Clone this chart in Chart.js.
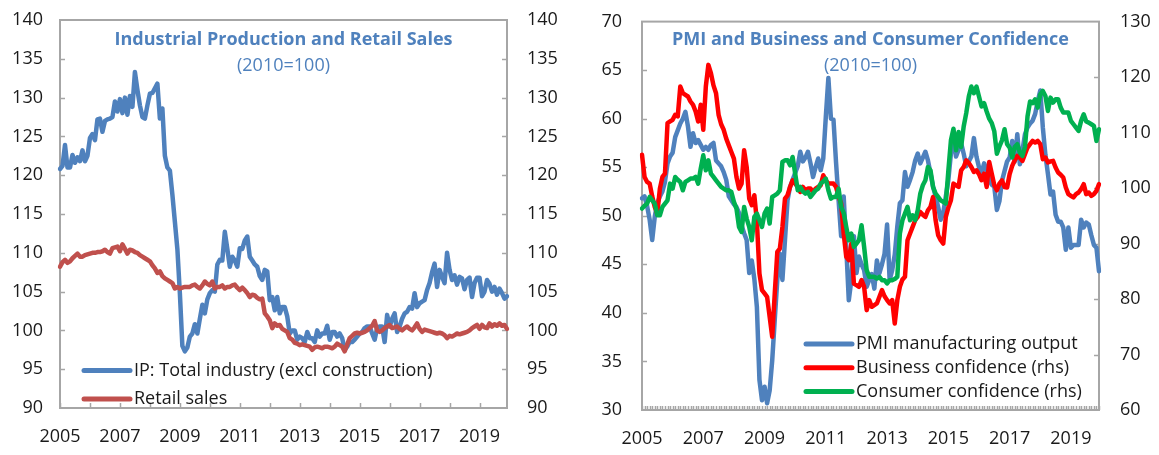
<!DOCTYPE html>
<html>
<head>
<meta charset="utf-8">
<script src="https://cdn.jsdelivr.net/npm/chart.js@4.4.1/dist/chart.umd.min.js"></script>
<style>
  html, body { margin: 0; padding: 0; background: #fff; }
  body { width: 1159px; height: 455px; position: relative; overflow: hidden; }
  .box { position: absolute; top: 0; height: 455px; }
  #box1 { left: 0; width: 570px; }
  #box2 { left: 580px; width: 579px; }
</style>
</head>
<body>
<div class="box" id="box1"><canvas id="ipChart"></canvas></div>
<div class="box" id="box2"><canvas id="pmiChart"></canvas></div>
<script>
// Data: monthly, Jan 2005 - Dec 2019
const startYear = 2005;
const yearTicks = ['2005', '2007', '2009', '2011', '2013', '2015', '2017', '2019'];

const ipTotal = [
  120.8, 121.2, 123.9, 121.0, 121.0, 122.6, 121.6, 122.3, 121.8, 123.2, 121.8, 122.5,
  124.8, 125.3, 124.5, 127.2, 127.3, 125.6, 127.0, 127.2, 127.3, 127.5, 129.5, 128.2,
  129.8, 128.0, 130.0, 127.8, 130.2, 128.8, 133.3, 131.0, 129.0, 127.5, 127.3, 129.0,
  130.5, 130.6, 131.2, 131.8, 127.3, 128.6, 122.5, 121.0, 120.6, 117.5, 114.0, 110.5,
  104.8, 98.0, 97.3, 97.8, 99.2, 99.6, 100.8, 99.6, 101.5, 103.3, 102.2, 104.0,
  104.8, 105.2, 105.0, 108.5, 109.1, 109.0, 112.7, 110.5, 108.2, 109.5, 109.0, 108.2,
  110.6, 110.5, 111.6, 112.1, 109.5, 109.0, 108.5, 108.2, 107.0, 106.5, 107.8, 107.6,
  103.9, 104.3, 102.6, 104.3, 102.2, 103.0, 103.0, 101.8, 99.6, 100.0, 100.0, 98.8,
  99.2, 99.0, 98.5, 99.8, 99.0, 99.0, 98.5, 100.0, 99.2, 99.6, 99.6, 100.6,
  98.8, 99.8, 99.8, 99.2, 99.6, 99.0, 97.5, 97.9, 98.5, 98.5, 98.8, 99.2,
  99.6, 99.8, 100.3, 100.5, 100.5, 99.6, 98.8, 100.3, 100.5, 100.5, 98.5, 102.0,
  100.5, 101.5, 102.2, 99.8, 100.5, 101.5, 102.2, 102.4, 103.0, 102.8, 104.8, 103.0,
  103.5, 103.7, 103.9, 105.2, 106.1, 107.5, 108.6, 105.6, 107.8, 106.9, 106.1, 110.0,
  107.8, 106.5, 107.1, 105.9, 106.9, 106.7, 105.3, 106.5, 106.8, 104.3, 106.1, 106.8,
  106.8, 104.4, 105.0, 106.5, 106.0, 105.0, 105.6, 104.6, 105.4, 104.8, 104.1, 104.4
];

const retailSales = [
  108.2, 108.8, 109.1, 108.7, 108.9, 109.3, 109.6, 109.9, 109.5, 109.5, 109.7, 109.8,
  109.9, 110.0, 110.0, 110.1, 110.1, 110.2, 110.4, 110.1, 109.9, 110.6, 110.7, 110.8,
  110.2, 111.1, 110.5, 109.9, 110.4, 110.3, 110.1, 110.0, 109.7, 109.5, 109.3, 109.1,
  108.9, 108.4, 108.0, 107.4, 107.6, 107.0, 106.7, 106.5, 106.3, 106.1, 105.4, 105.6,
  105.4, 105.5, 105.6, 105.6, 105.6, 105.8, 105.9, 105.6, 105.4, 105.8, 106.3, 106.0,
  105.8, 106.3, 105.4, 105.6, 105.6, 105.8, 105.4, 105.6, 105.6, 105.8, 105.9, 105.5,
  105.2, 105.5, 105.2, 104.8, 104.3, 104.6, 104.5, 104.2, 104.0, 104.1, 102.2, 101.8,
  101.3, 100.3, 100.9, 100.6, 100.7, 100.2, 100.0, 99.8, 99.0, 98.8, 98.4, 98.3,
  98.1, 98.2, 98.1, 98.0, 97.9, 97.5, 97.8, 97.9, 97.8, 97.7, 97.9, 97.9,
  97.8, 97.7, 97.9, 98.3, 98.1, 97.9, 97.3, 98.2, 99.0, 99.3, 99.6, 99.7,
  99.6, 99.7, 99.8, 100.0, 100.3, 100.6, 101.2, 100.0, 99.8, 100.0, 100.3, 100.5,
  100.7, 100.3, 100.4, 100.5, 100.2, 100.0, 100.3, 100.5, 100.2, 100.0, 100.4, 100.9,
  100.2, 99.8, 100.1, 100.0, 99.9, 99.8, 99.7, 99.6, 99.7, 99.6, 99.4, 99.0,
  99.3, 99.2, 99.4, 99.6, 99.5, 99.6, 99.7, 99.8, 100.0, 100.3, 100.5, 100.7,
  100.2, 100.7, 100.4, 100.3, 100.9, 100.5, 100.8, 100.6, 100.9, 100.6, 100.7, 100.2
];

const pmiOutput = [
  51.8, 52.0, 51.0, 49.6, 47.5, 49.9, 51.3, 52.0, 52.5, 53.5, 55.4, 56.1,
  56.5, 58.1, 58.8, 59.5, 60.0, 60.7, 59.2, 57.1, 58.5, 57.5, 57.8, 57.3,
  56.8, 57.1, 56.8, 57.3, 57.5, 55.7, 55.4, 55.1, 54.5, 53.7, 52.0, 51.6,
  51.2, 50.9, 50.3, 49.0, 48.2, 47.5, 44.1, 45.4, 43.5, 40.6, 33.1, 31.0,
  32.4, 30.7, 32.0, 35.1, 39.3, 43.4, 46.1, 43.4, 47.5, 51.6, 53.0, 53.7,
  54.4, 55.1, 56.6, 55.6, 56.0, 56.6, 55.4, 54.0, 55.0, 55.9, 54.7, 55.9,
  60.2, 64.2, 60.0, 59.9, 55.5, 51.6, 47.9, 52.0, 46.8, 41.3, 43.4, 47.9,
  44.1, 45.8, 45.0, 44.4, 42.7, 43.4, 44.0, 42.5, 45.4, 44.1, 45.0, 46.1,
  49.1, 43.4, 44.4, 46.0, 48.9, 51.3, 51.6, 54.5, 53.0, 53.7, 54.5, 55.7,
  56.4, 55.4, 56.0, 56.6, 55.7, 54.4, 53.0, 52.0, 50.9, 49.6, 50.3, 52.0,
  53.7, 56.4, 58.0, 56.1, 56.8, 57.5, 56.4, 55.1, 55.6, 56.1, 58.0, 56.1,
  55.0, 54.4, 55.4, 54.7, 53.7, 53.2, 53.0, 50.6, 51.5, 53.6, 54.6, 55.6,
  56.0, 57.7, 55.6, 58.4, 55.3, 56.7, 58.4, 59.1, 59.5, 59.8, 60.5, 61.8,
  62.9, 59.1, 56.3, 54.3, 52.2, 52.5, 50.1, 49.4, 49.4, 48.8, 46.5, 48.8,
  46.7, 47.0, 47.0, 47.0, 49.6, 48.8, 49.3, 49.1, 48.0, 47.0, 46.7, 44.3
];

const businessConf = [
  106.0, 102.0, 101.1, 100.8, 98.5, 96.6, 95.4, 99.9, 102.0, 102.6, 111.7, 112.0,
  112.3, 113.2, 112.9, 118.3, 117.1, 116.8, 116.5, 115.6, 115.0, 113.8, 112.0, 115.0,
  110.5, 118.3, 122.2, 120.7, 118.5, 117.1, 113.2, 111.5, 110.5, 108.9, 107.7, 106.5,
  105.3, 102.0, 99.9, 100.8, 106.8, 103.8, 98.1, 96.9, 98.7, 94.0, 84.6, 81.6,
  81.0, 80.4, 76.8, 73.2, 81.0, 88.5, 89.1, 93.0, 98.1, 98.7, 100.2, 101.4,
  100.8, 100.2, 99.3, 100.2, 99.6, 99.9, 99.9, 99.3, 99.9, 100.2, 100.5, 102.3,
  101.4, 100.8, 100.8, 100.8, 100.2, 98.5, 97.2, 91.8, 87.6, 87.0, 90.0, 82.8,
  82.5, 82.2, 83.4, 82.2, 78.0, 79.8, 78.6, 78.9, 79.2, 80.4, 81.6, 80.5,
  79.8, 79.2, 79.8, 75.6, 79.8, 82.2, 83.5, 84.0, 90.6, 91.8, 93.0, 94.2,
  94.8, 95.7, 95.2, 94.8, 96.0, 96.6, 98.4, 94.2, 91.5, 90.6, 90.0, 94.8,
  96.5, 97.8, 100.8, 100.5, 100.2, 103.2, 103.8, 105.0, 104.5, 103.8, 102.9, 103.2,
  102.5, 101.4, 102.6, 100.2, 104.7, 102.6, 100.5, 99.6, 100.8, 101.4, 100.2, 100.1,
  102.5, 104.0, 105.0, 105.8, 105.5, 104.9, 106.1, 107.3, 107.9, 108.5, 108.2, 108.5,
  107.9, 105.2, 105.5, 104.6, 104.8, 104.9, 103.7, 102.8, 102.4, 101.9, 100.1, 98.9,
  98.6, 98.3, 98.9, 99.2, 99.8, 100.7, 98.9, 99.2, 98.6, 98.9, 99.5, 100.7
];

const consumerConf = [
  96.3, 96.8, 97.2, 98.4, 97.8, 97.2, 95.1, 95.1, 96.6, 97.2, 97.8, 100.8,
  99.9, 102.0, 101.5, 101.1, 99.6, 101.1, 101.4, 101.7, 101.7, 102.0, 100.8, 103.5,
  105.9, 103.2, 105.0, 102.6, 102.0, 101.4, 100.8, 100.2, 99.9, 99.6, 99.6, 99.3,
  97.5, 96.3, 93.0, 92.1, 96.6, 94.5, 93.0, 90.6, 94.8, 95.4, 94.2, 93.0,
  95.4, 96.3, 93.6, 98.4, 98.7, 99.0, 99.6, 104.7, 105.0, 105.0, 104.1, 105.6,
  102.6, 99.6, 100.2, 99.4, 99.0, 99.3, 98.4, 99.0, 99.6, 99.9, 100.8, 101.2,
  101.7, 99.6, 98.1, 98.4, 98.4, 99.9, 96.6, 95.5, 93.0, 90.6, 91.8, 89.4,
  90.0, 90.6, 93.3, 89.4, 85.2, 84.0, 84.0, 84.0, 83.7, 84.0, 83.4, 83.4,
  82.8, 83.4, 83.4, 83.6, 84.0, 91.8, 94.2, 95.4, 96.6, 94.2, 95.1, 94.2,
  96.0, 99.0, 100.5, 101.4, 103.8, 103.2, 100.2, 99.0, 98.4, 97.8, 97.5, 97.2,
  103.2, 108.6, 110.7, 106.8, 110.1, 107.4, 111.1, 113.5, 116.5, 118.3, 117.1, 118.3,
  116.5, 114.7, 115.3, 113.8, 112.5, 111.7, 110.2, 106.2, 107.5, 108.6, 110.6, 107.9,
  107.3, 105.5, 107.4, 107.9, 106.4, 105.8, 107.4, 112.9, 115.6, 115.3, 116.0, 114.5,
  116.9, 117.5, 116.6, 113.9, 116.3, 115.4, 116.0, 116.0, 114.5, 113.6, 113.6, 113.6,
  112.1, 111.5, 110.9, 110.3, 112.1, 113.3, 112.0, 111.8, 111.5, 111.2, 108.5, 110.6
];

// month labels
const months = [];
for (let i = 0; i < ipTotal.length; i++) {
  const y = startYear + Math.floor(i / 12);
  const m = (i % 12) + 1;
  months.push(y + '-' + (m < 10 ? '0' + m : m));
}

const FONT = "'Open Sans', sans-serif";
const TEXT = '#1a1a1a';
const FRAME = '#a6a6a6';
const TITLE_BLUE = '#4f81bd';

// frame + inward tick marks
const framePlugin = {
  id: 'frame',
  beforeDatasetsDraw(chart, args, opts) {
    const ctx = chart.ctx;
    const a = chart.chartArea;
    ctx.save();
    ctx.strokeStyle = FRAME;
    ctx.lineWidth = 1.5;
    // y ticks
    ['y', 'y2'].forEach(id => {
      const s = chart.scales[id];
      const left = s.position === 'left';
      s.ticks.forEach((t, i) => {
        const py = Math.round(s.getPixelForTick(i)) + 0.5;
        if (py < a.top + 2 || py > a.bottom - 2) return;
        ctx.beginPath();
        if (left) { ctx.moveTo(a.left, py); ctx.lineTo(a.left + 5, py); }
        else { ctx.moveTo(a.right, py); ctx.lineTo(a.right - 5, py); }
        ctx.stroke();
      });
    });
    // x ticks
    const xs = chart.scales.x;
    xs.ticks.forEach((t, i) => {
      const lab = chart.data.labels[t.value];
      if (!opts.monthly && !lab.endsWith('-01')) return;
      const px = Math.round(xs.getPixelForTick(i)) + 0.5;
      ctx.beginPath();
      ctx.moveTo(px, a.bottom);
      ctx.lineTo(px, a.bottom - (opts.monthly ? 4 : 5));
      ctx.stroke();
    });
    ctx.lineWidth = 2;
    ctx.strokeRect(a.left, a.top, a.right - a.left, a.bottom - a.top);
    ctx.restore();
  }
};

// title inside plot area
const innerTitle = {
  id: 'innerTitle',
  afterDraw(chart, args, opts) {
    const ctx = chart.ctx;
    const a = chart.chartArea;
    const cx = (a.left + a.right) / 2;
    ctx.save();
    ctx.fillStyle = TITLE_BLUE;
    ctx.textAlign = 'center';
    ctx.textBaseline = 'middle';
    ctx.font = 'bold 18px ' + FONT;
    ctx.fillText(opts.text, cx, opts.y);
    ctx.font = '18px ' + FONT;
    ctx.fillText(opts.sub, cx, opts.y + 26);
    ctx.restore();
  }
};

// legend drawn inside plot area
const boxLegend = {
  id: 'boxLegend',
  afterDatasetsDraw(chart, args, opts) {
    const ctx = chart.ctx;
    ctx.save();
    ctx.font = '18px ' + FONT;
    ctx.textBaseline = 'middle';
    chart.data.datasets.forEach((ds, i) => {
      const y = opts.y + i * opts.gap;
      ctx.strokeStyle = ds.borderColor;
      ctx.lineWidth = 5;
      ctx.lineCap = 'round';
      ctx.beginPath();
      ctx.moveTo(opts.x, y);
      ctx.lineTo(opts.x + 46, y);
      ctx.stroke();
      ctx.fillStyle = TEXT;
      ctx.fillText(ds.label, opts.x + 50, y);
    });
    ctx.restore();
  }
};

function yAxis(pos, min, max, step, width, pad) {
  return {
    position: pos,
    min: min,
    max: max,
    grid: { display: false, drawTicks: false },
    border: { display: false },
    ticks: { stepSize: step, padding: pad, color: TEXT, font: { family: FONT, size: 18 } },
    afterFit(scale) {
      scale.width = width;
      // let layout padding decide the plot top/bottom
      scale.paddingTop = 0;
      scale.paddingBottom = 0;
    }
  };
}

function xAxis(height) {
  return {
    type: 'category',
    grid: { display: false, drawTicks: false },
    border: { display: false },
    ticks: {
      autoSkip: false,
      maxRotation: 0,
      padding: 18,
      color: TEXT,
      font: { family: FONT, size: 18 },
      callback(value, index) {
        const lab = months[index];
        const yr = lab.slice(0, 4);
        return lab.endsWith('-01') && yearTicks.includes(yr) ? yr : '';
      }
    },
    afterFit(scale) { scale.height = height; }
  };
}

function line(label, data, color, order, axis) {
  return {
    label: label,
    data: data,
    borderColor: color,
    backgroundColor: color,
    borderWidth: 4.5,
    pointRadius: 0,
    tension: 0,
    borderJoinStyle: 'round',
    borderCapStyle: 'round',
    order: order,
    yAxisID: axis || 'y'
  };
}

const common = {
  responsive: true,
  maintainAspectRatio: false,
  animation: false,
  events: []
};

new Chart(document.getElementById('ipChart'), {
  type: 'line',
  data: {
    labels: months,
    datasets: [
      line('IP: Total industry (excl construction)', ipTotal, '#4f81bd', 2),
      line('Retail sales', retailSales, '#c0504d', 1)
    ]
  },
  options: {
    ...common,
    layout: { padding: { top: 20, left: 0, right: 0, bottom: 0 } },
    scales: {
      x: xAxis(47),
      y: yAxis('left', 90, 140, 5, 60, 17),
      y2: yAxis('right', 90, 140, 5, 63, 20)
    },
    plugins: {
      legend: { display: false },
      tooltip: { enabled: false },
      frame: { monthly: false },
      innerTitle: { text: 'Industrial Production and Retail Sales', sub: '(2010=100)', y: 39.5 },
      boxLegend: { x: 84, y: 370.5, gap: 28.5 }
    }
  },
  plugins: [framePlugin, innerTitle, boxLegend]
});

new Chart(document.getElementById('pmiChart'), {
  type: 'line',
  data: {
    labels: months,
    datasets: [
      line('PMI manufacturing output', pmiOutput, '#4f81bd', 3),
      line('Business confidence (rhs)', businessConf, '#ff0000', 2, 'y2'),
      line('Consumer confidence (rhs)', consumerConf, '#00b050', 1, 'y2')
    ]
  },
  options: {
    ...common,
    layout: { padding: { top: 21.6, left: 0, right: 0, bottom: 0 } },
    scales: {
      x: xAxis(45),
      y: yAxis('left', 30, 70, 5, 62, 20),
      y2: yAxis('right', 60, 130, 10, 60, 21)
    },
    plugins: {
      legend: { display: false },
      tooltip: { enabled: false },
      frame: { monthly: true },
      innerTitle: { text: 'PMI and Business and Consumer Confidence', sub: '(2010=100)', y: 39.5 },
      boxLegend: { x: 226, y: 344, gap: 23.7 }
    }
  },
  plugins: [framePlugin, innerTitle, boxLegend]
});
</script>
</body>
</html>
